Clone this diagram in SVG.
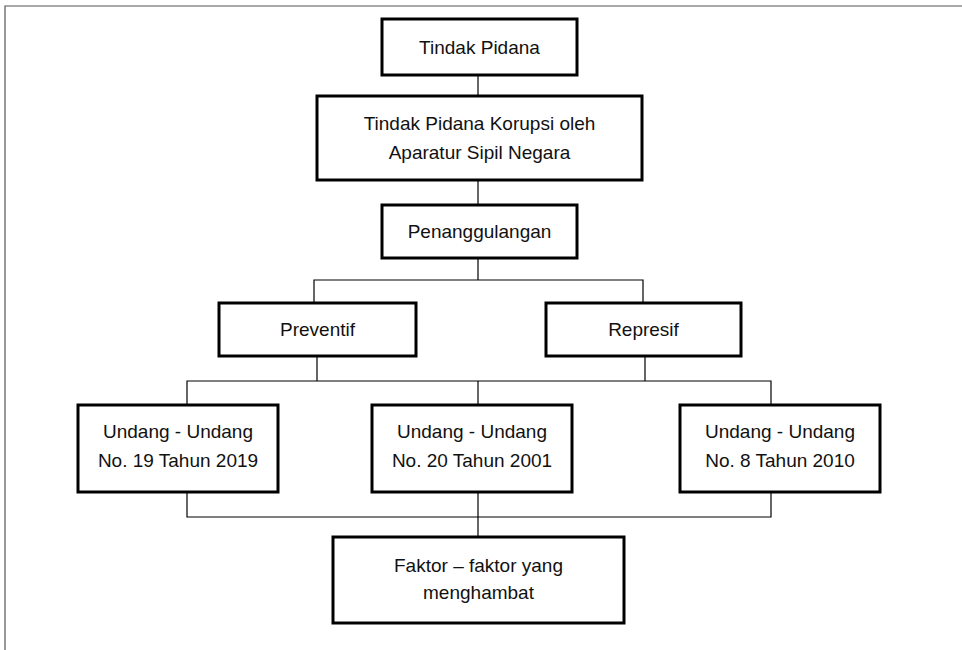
<svg xmlns="http://www.w3.org/2000/svg" width="962" height="650" viewBox="0 0 962 650">
<style>
.box{fill:#fff;stroke:#000;stroke-width:3}
.lbl{font-family:"Liberation Sans",Arial,sans-serif;font-size:19px;fill:#111;text-anchor:middle}
.con{fill:none;stroke:#000;stroke-width:1.2}
.frame{fill:none;stroke:#555;stroke-width:1.2}
</style>
<rect width="962" height="650" fill="#fff"/>
<path class="frame" d="M5,650 V6 H962"/>
<g id="connectors">
<path class="con" d="M478,75 V96"/>
<path class="con" d="M478,180 V205"/>
<path class="con" d="M478,258 V280 M314,303 V280 H643 V303"/>
<path class="con" d="M317,356 V381 M645,356 V381 M187,405 V381 H771 V405 M478,381 V405"/>
<path class="con" d="M187,492 V517 H771 V492 M478,492 V537"/>
</g>
<g id="n1"><rect class="box" x="382" y="19" width="195" height="56"/><text class="lbl" x="479.5" y="54">Tindak Pidana</text></g>
<g id="n2"><rect class="box" x="317" y="96" width="325" height="84"/><text class="lbl" x="479.5" y="130">Tindak Pidana Korupsi oleh</text><text class="lbl" x="479.5" y="159">Aparatur Sipil Negara</text></g>
<g id="n3"><rect class="box" x="382" y="205" width="195" height="53"/><text class="lbl" x="479.5" y="238">Penanggulangan</text></g>
<g id="n4"><rect class="box" x="219" y="303" width="197" height="53"/><text class="lbl" x="317.5" y="336">Preventif</text></g>
<g id="n5"><rect class="box" x="546" y="303" width="195" height="53"/><text class="lbl" x="643.5" y="336">Represif</text></g>
<g id="n6"><rect class="box" x="78" y="405" width="200" height="87"/><text class="lbl" x="178" y="438">Undang - Undang</text><text class="lbl" x="178" y="467">No. 19 Tahun 2019</text></g>
<g id="n7"><rect class="box" x="372" y="405" width="200" height="87"/><text class="lbl" x="472" y="438">Undang - Undang</text><text class="lbl" x="472" y="467">No. 20 Tahun 2001</text></g>
<g id="n8"><rect class="box" x="680" y="405" width="200" height="87"/><text class="lbl" x="780" y="438">Undang - Undang</text><text class="lbl" x="780" y="467">No. 8 Tahun 2010</text></g>
<g id="n9"><rect class="box" x="333" y="537" width="291" height="86"/><text class="lbl" x="478.5" y="572">Faktor – faktor yang</text><text class="lbl" x="478.5" y="599">menghambat</text></g>
</svg>
